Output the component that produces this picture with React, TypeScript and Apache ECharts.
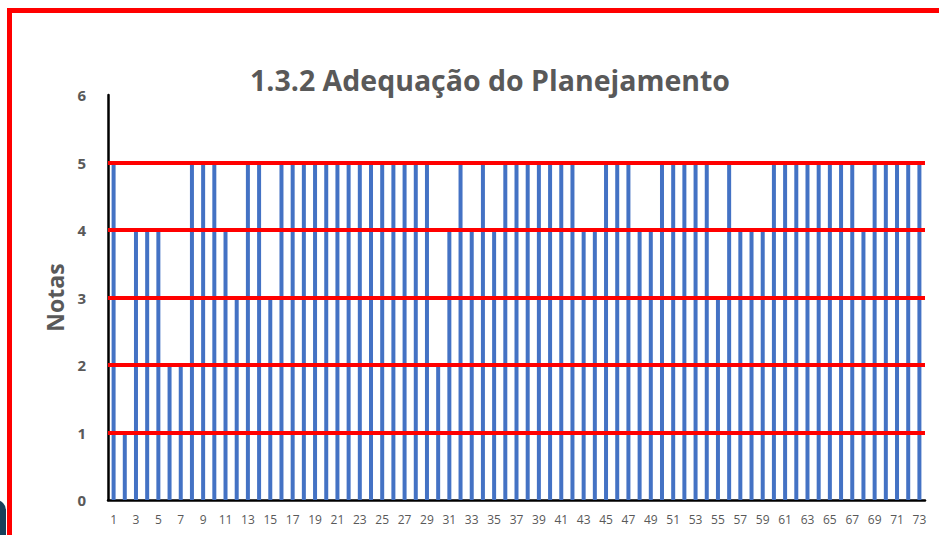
import React, { useEffect, useRef } from "react";
import * as echarts from "echarts";

const TITLE = "1.3.2 Adequação do Planejamento";
const Y_NAME = "Notas";
const categories: string[] = Array.from({ length: 73 }, (_, i) => String(i + 1));
const notas: number[] = [
  5, 1, 4, 4, 4, 2, 2, 5, 5, 5,
  4, 3, 5, 5, 3, 5, 5, 5, 5, 5,
  5, 5, 5, 5, 5, 5, 5, 5, 5, 2,
  4, 5, 4, 5, 4, 5, 5, 5, 5, 5,
  5, 5, 4, 4, 5, 5, 5, 4, 4, 5,
  5, 5, 5, 5, 3, 5, 4, 4, 4, 5,
  5, 5, 5, 5, 5, 5, 5, 4, 5, 5,
  5, 5, 5,
];
const redLevels: number[] = [1, 2, 3, 4, 5];

export default function App() {
  const ref = useRef<HTMLDivElement>(null);
  useEffect(() => {
    if (!ref.current) return;
    document.body.style.margin = "0";
    const chart = echarts.init(ref.current, null, { renderer: "svg" });
    const font = "'Open Sans', 'Noto Sans', sans-serif";
    chart.setOption({
      animation: false,
      backgroundColor: "#ffffff",
      textStyle: { fontFamily: font },
      title: {
        text: TITLE,
        left: 485,
        textAlign: "center",
        top: 60,
        textStyle: { fontSize: 28.5, fontWeight: "bold", color: "#595959", fontFamily: font },
      },
      grid: { left: 108, right: 14, top: 95, bottom: 35, containLabel: false },
      xAxis: {
        type: "category",
        data: categories,
        boundaryGap: true,
        axisLine: { show: true, lineStyle: { color: "#000000", width: 2.5 } },
        axisTick: { show: false },
        axisLabel: { interval: 1, color: "#595959", fontSize: 12, margin: 13, fontFamily: font },
        splitLine: { show: false },
      },
      yAxis: {
        type: "value",
        min: 0,
        max: 6,
        interval: 1,
        name: Y_NAME,
        nameLocation: "middle",
        nameGap: 42,
        nameTextStyle: { fontSize: 23, fontWeight: "bold", color: "#595959", fontFamily: font },
        axisLine: { show: true, lineStyle: { color: "#000000", width: 2.5 } },
        axisTick: { show: false },
        axisLabel: { color: "#595959", fontSize: 15, fontWeight: "bold", margin: 22, fontFamily: font },
        splitLine: { show: false },
      },
      series: [
        {
          type: "bar",
          data: notas,
          barWidth: 4,
          itemStyle: { color: "#4472C4" },
          markLine: {
            silent: true,
            symbol: ["none", "none"],
            label: { show: false },
            lineStyle: { color: "#FF0000", width: 4, type: "solid" },
            data: redLevels.map((v) => ({ yAxis: v })),
          },
        },
      ],
      graphic: [
        {
          type: "polyline",
          shape: { points: [[9.5, 540], [9.5, 10.5], [945, 10.5]] },
          style: { stroke: "#FF0000", lineWidth: 5, fill: null },
          silent: true,
        },
        {
          type: "rect",
          shape: { x: -14, y: 500, width: 20, height: 50, r: [10, 10, 0, 0] },
          style: { fill: "#17405A" },
          silent: true,
        },
      ],
    });
    return () => chart.dispose();
  }, []);
  return <div ref={ref} style={{ width: 939, height: 535 }} />;
}
